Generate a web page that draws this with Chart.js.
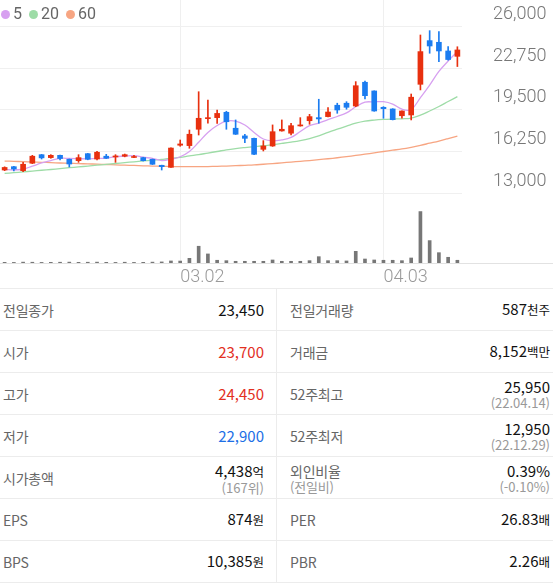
<!DOCTYPE html>
<html lang="ko">
<head>
<meta charset="utf-8">
<title>주가 차트</title>
<script src="https://cdn.jsdelivr.net/npm/chart.js@4/dist/chart.umd.min.js"></script>
<style>
  html, body { margin: 0; padding: 0; background: #fff; }
  body { width: 553px; height: 583px; overflow: hidden; font-family: "Noto Sans CJK KR", "Noto Sans", sans-serif; }
  #chartBox { position: relative; width: 553px; height: 288px; }
  #chartBox canvas { display: block; }
  #legend { position: absolute; left: 1px; top: 5px; display: flex; align-items: center;
            font: 16px Roboto, sans-serif; color: #666; line-height: 18px; }
  #legend .item { display: flex; align-items: center; margin-right: 7px; }
  #legend .dot { width: 9px; height: 9px; border-radius: 50%; margin-right: 3px; }
  .info { width: 553px; border-top: 1px solid #ececec; }
  .row { display: flex; height: 41px; border-bottom: 1px solid #ececec; }
  .cell { display: flex; justify-content: space-between; align-items: center; box-sizing: border-box; }
  .cell.l { width: 277px; padding: 0 12px 0 3px; border-right: 1px solid #ececec; }
  .cell.r { width: 276px; padding: 0 3px 0 13px; }
  .k { font-size: 14px; color: #666; letter-spacing: -0.2px; line-height: 16px; }
  .v { font-size: 15px; color: #111; text-align: right; line-height: 16px; }
  .v em, .v i { font-style: normal; font-size: 12.5px; }
  .two { padding-top: 3px; }
  .sub { display: block; font-size: 13px; color: #999; line-height: 16px; }
  .red { color: #e3301f; }
  .blue { color: #1d6fe6; }
</style>
</head>
<body>
<div id="chartBox">
  <canvas id="chart" width="553" height="288"></canvas>
  <div id="legend"></div>
</div>
<div class="info">
  <div class="row">
    <div class="cell l"><span class="k">전일종가</span><span class="v">23,450</span></div>
    <div class="cell r"><span class="k">전일거래량</span><span class="v">587<em>천주</em></span></div>
  </div>
  <div class="row">
    <div class="cell l"><span class="k">시가</span><span class="v red">23,700</span></div>
    <div class="cell r"><span class="k">거래금</span><span class="v">8,152<em>백만</em></span></div>
  </div>
  <div class="row">
    <div class="cell l"><span class="k">고가</span><span class="v red">24,450</span></div>
    <div class="cell r"><span class="k">52주최고</span><span class="v two">25,950<span class="sub">(22.04.14)</span></span></div>
  </div>
  <div class="row">
    <div class="cell l"><span class="k">저가</span><span class="v blue">22,900</span></div>
    <div class="cell r"><span class="k">52주최저</span><span class="v two">12,950<span class="sub">(22.12.29)</span></span></div>
  </div>
  <div class="row">
    <div class="cell l"><span class="k">시가총액</span><span class="v two">4,438<em>억</em><span class="sub">(167위)</span></span></div>
    <div class="cell r"><span class="k two">외인비율<span class="sub">(전일비)</span></span><span class="v two">0.39%<span class="sub">(-0.10%)</span></span></div>
  </div>
  <div class="row">
    <div class="cell l"><span class="k">EPS</span><span class="v">874<em>원</em></span></div>
    <div class="cell r"><span class="k">PER</span><span class="v">26.83<em>배</em></span></div>
  </div>
  <div class="row">
    <div class="cell l"><span class="k">BPS</span><span class="v">10,385<em>원</em></span></div>
    <div class="cell r"><span class="k">PBR</span><span class="v">2.26<em>배</em></span></div>
  </div>
</div>

<script>
// Trading days shown on the chart
const dates = [
  '02.02','02.03','02.06','02.07','02.08','02.09','02.10','02.13','02.14','02.15',
  '02.16','02.17','02.20','02.21','02.22','02.23','02.24','02.27','02.28',
  '03.02','03.03','03.06','03.07','03.08','03.09','03.10','03.13','03.14','03.15',
  '03.16','03.17','03.20','03.21','03.22','03.23','03.24','03.27','03.28','03.29',
  '03.30','03.31',
  '04.03','04.04','04.05','04.06','04.07','04.10','04.11','04.12','04.13'
];

// Daily prices (KRW)
const open = [
  14800,15060,14750,15330,16000,15770,15950,15640,15530,16080,
  15660,15880,15820,15880,15780,15770,15640,15170,15010,16740,
  16710,17990,18820,18900,19320,18070,17470,17280,16420,16680,
  17860,17680,18250,18660,18900,18980,19870,20030,19810,21670,
  20990,19710,19580,19050,19110,21510,24930,24800,24120,23700
];
const high = [
  15050,15080,15400,15950,16020,16000,15970,15660,16000,16100,
  16260,16030,16000,16050,15950,15800,15660,15180,16530,17150,
  17930,20930,20280,19500,19400,18720,17600,17300,17100,18330,
  18720,18460,18900,19160,20340,19680,20030,20150,21720,21770,
  21000,19760,19600,19430,20750,25370,25710,25630,24460,24450
];
const low = [
  14750,14720,14670,15300,15660,15720,15590,15040,15400,15600,
  15590,15700,15400,15830,15760,15500,15230,14800,15000,16660,
  16500,17540,18460,18440,17990,17580,16940,16000,16290,16650,
  17840,17540,18230,18380,18460,18950,19240,19560,19760,20360,
  19400,18850,18720,18850,18720,21070,23940,23280,23400,22900
];
const close = [
  15000,14880,15250,15880,15750,15950,15700,15270,15770,15640,
  16190,15720,15900,16000,15850,15530,15250,15060,16520,16840,
  17600,18850,18900,19230,18580,17600,17280,16030,16680,17800,
  17990,18270,18330,18980,18800,19340,19500,19710,21400,20620,
  19420,19600,18740,19420,20500,24070,24510,24120,23450,24200
];

// Daily volume (thousand shares)
const volume = [
  70,60,90,80,60,70,80,90,70,80,
  90,70,60,80,60,70,90,110,210,200,
  480,1720,930,280,240,175,175,175,175,310,
  175,175,175,240,650,240,240,210,1200,410,
  310,280,280,240,515,5280,2300,1060,587,280
];

// Moving averages
const ma5 = [
  14850,14800,14870,15100,15350,15540,15710,15710,15690,15670,
  15710,15720,15840,15890,15930,15800,15710,15540,15640,15840,
  16250,16970,17740,18280,18630,18630,18320,17740,17230,17080,
  17160,17350,17810,18270,18470,18740,18990,19270,19750,20110,
  20130,20150,19960,19560,19540,20470,21450,22520,23330,24070
];
const ma20 = [
  14530,14590,14650,14720,14780,14840,14910,14980,15040,15110,
  15180,15240,15310,15380,15440,15510,15570,15630,15700,15790,
  15900,16000,16130,16250,16380,16480,16560,16630,16700,16790,
  16880,16980,17100,17260,17480,17740,18000,18240,18470,18630,
  18710,18760,18790,18810,18870,19100,19420,19770,20160,20550
];
const ma60 = [
  15500,15480,15450,15430,15400,15380,15350,15330,15300,15280,
  15260,15230,15200,15180,15160,15130,15110,15090,15070,15060,
  15060,15060,15070,15090,15110,15140,15170,15200,15250,15300,
  15360,15420,15480,15540,15610,15680,15760,15850,15940,16040,
  16140,16250,16350,16450,16580,16730,16900,17070,17260,17460
];

// Axis labels
const maPeriods = [5, 20, 60];
const priceTicks = [13000, 16250, 19500, 22750, 26000];
const xTickLabels = ['03.02', '04.03'];

const RED = '#e8300f';
const BLUE = '#1b7cf0';
const maColors = ['#d7a0f0', '#9edca7', '#f7a582'];

// Legend for the moving-average lines
const legendEl = document.getElementById('legend');
maPeriods.forEach((p, i) => {
  const item = document.createElement('span');
  item.className = 'item';
  const dot = document.createElement('span');
  dot.className = 'dot';
  dot.style.background = maColors[i];
  item.appendChild(dot);
  item.appendChild(document.createTextNode(String(p)));
  legendEl.appendChild(item);
});

const candleColors = close.map((c, i) => (c >= open[i] ? RED : BLUE));
const maSeries = [ma5, ma20, ma60];

// Full-width rule under the volume bars
const baseRule = {
  id: 'baseRule',
  beforeDatasetsDraw(chart) {
    const { ctx, chartArea } = chart;
    const y = Math.round(chartArea.bottom) + 0.5;
    ctx.save();
    ctx.strokeStyle = '#e2e2e2';
    ctx.lineWidth = 1;
    ctx.beginPath();
    ctx.moveTo(0, y);
    ctx.lineTo(chart.width, y);
    ctx.stroke();
    ctx.restore();
  }
};

new Chart(document.getElementById('chart'), {
  type: 'bar',
  data: {
    labels: dates,
    datasets: [
      {
        label: 'wick',
        data: low.map((l, i) => [l, high[i]]),
        backgroundColor: candleColors,
        barThickness: 1,
        grouped: false,
        yAxisID: 'y',
        order: 1
      },
      {
        label: 'body',
        data: open.map((o, i) => [o, close[i]]),
        backgroundColor: candleColors,
        barThickness: 5,
        minBarLength: 1,
        grouped: false,
        yAxisID: 'y',
        order: 0
      },
      {
        label: 'volume',
        data: volume,
        backgroundColor: '#777777',
        barThickness: 3,
        grouped: false,
        yAxisID: 'yVol',
        order: 5
      },
      ...maSeries.map((s, i) => ({
        type: 'line',
        label: String(maPeriods[i]),
        data: s,
        borderColor: maColors[i],
        borderWidth: 1.3,
        pointRadius: 0,
        tension: 0.4,
        fill: false,
        yAxisID: 'y',
        order: 2 + i
      }))
    ]
  },
  options: {
    responsive: false,
    animation: false,
    devicePixelRatio: 1,
    layout: { padding: 0 },
    plugins: { legend: { display: false }, tooltip: { enabled: false } },
    scales: {
      x: {
        offset: true,
        grid: { offset: false, color: '#efefef', drawTicks: false },
        border: { display: false },
        ticks: {
          autoSkip: false,
          maxRotation: 0,
          align: 'start',
          padding: 4,
          color: '#9a9a9a',
          font: { family: 'Roboto', size: 18, weight: '300' }
        },
        afterBuildTicks(scale) {
          scale.ticks = scale.ticks.filter(t => xTickLabels.includes(dates[t.value]));
        },
        afterFit(scale) {
          scale.height = 25;
          scale.paddingLeft = 0;
          scale.paddingRight = 0;
        }
      },
      y: {
        position: 'right',
        min: 7520,
        max: 28110,
        grid: { color: '#f0f0f0', drawTicks: false },
        border: { display: false },
        afterBuildTicks(scale) {
          scale.ticks = priceTicks.map(v => ({ value: v }));
        },
        ticks: {
          callback: v => v.toLocaleString('en-US'),
          crossAlign: 'near',
          padding: 31,
          labelOffset: -12,
          color: '#777',
          font: { family: 'Roboto', size: 18, weight: '300' }
        },
        afterFit(scale) {
          scale.width = 91;
          scale.paddingTop = 0;
          scale.paddingBottom = 0;
        }
      },
      yVol: {
        display: false,
        min: 0,
        max: 27000
      }
    }
  },
  plugins: [baseRule]
});
</script>
</body>
</html>
